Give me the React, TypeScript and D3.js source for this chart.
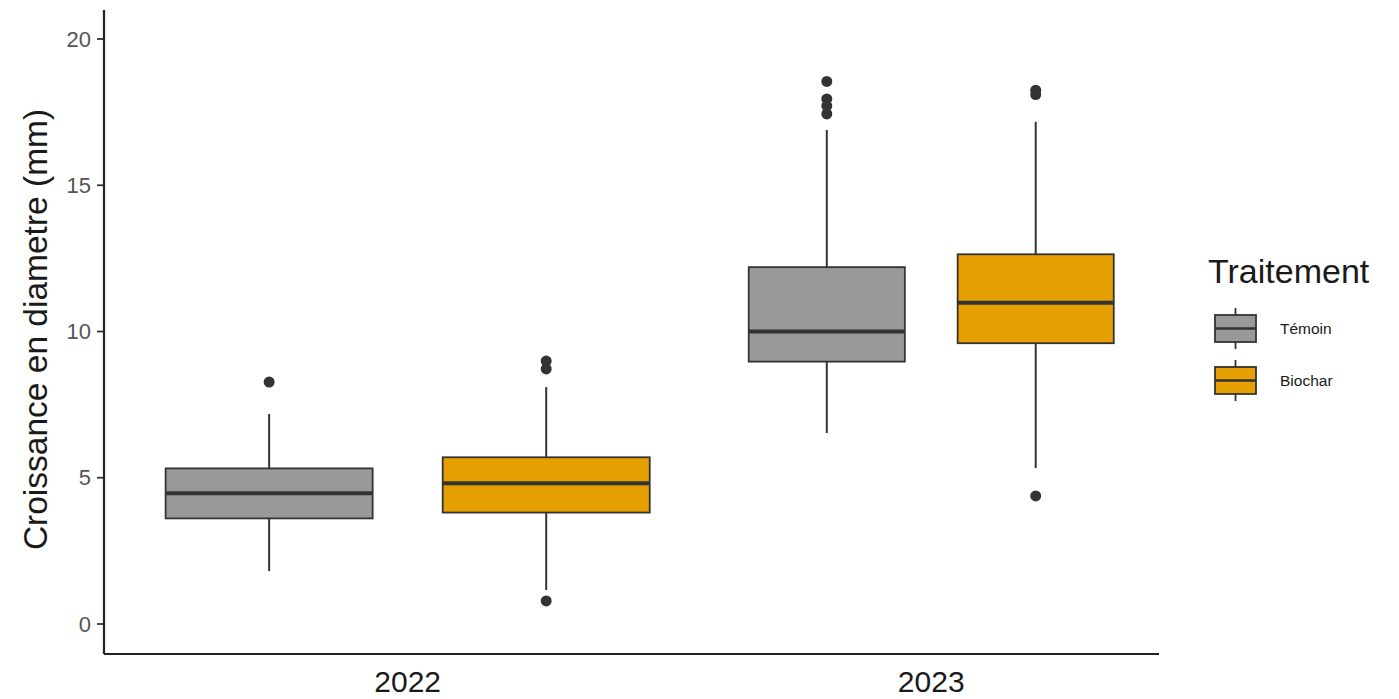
import React from "react";
import * as d3 from "d3";

// ---- data ----
const years = ["2022", "2023"];
const treatments = ["Témoin", "Biochar"];
const treatmentColors = ["#999999", "#E69F00"];
const yTicks = [0, 5, 10, 15, 20];

// five-number summaries per year
const temoinLow = [1.81, 6.53];
const temoinQ1 = [3.61, 8.97];
const temoinMed = [4.47, 10.0];
const temoinQ3 = [5.32, 12.2];
const temoinHigh = [7.18, 16.89];
const temoinOutliers = [[8.27], [18.55, 17.95, 17.71, 17.44]];

const biocharLow = [1.16, 5.33];
const biocharQ1 = [3.81, 9.6];
const biocharMed = [4.81, 10.98];
const biocharQ3 = [5.7, 12.64];
const biocharHigh = [8.1, 17.17];
const biocharOutliers = [[0.79, 8.99, 8.72], [4.38, 18.25, 18.1]];

// relative box widths (varwidth) per year
const yearWidthFactor = [1, 0.754];

const W = 1399;
const H = 699;
const left = 104;
const right = 1159;
const top = 10;
const bottom = 654;

export default function App() {
  const x = d3.scaleLinear().domain([0.42, 2.435]).range([left, right]);
  const y = d3.scaleLinear().domain([0, 20]).range([624, 39]);

  const series = [
    { low: temoinLow, q1: temoinQ1, med: temoinMed, q3: temoinQ3, high: temoinHigh, out: temoinOutliers },
    { low: biocharLow, q1: biocharQ1, med: biocharMed, q3: biocharQ3, high: biocharHigh, out: biocharOutliers },
  ];

  const stroke = "#333333";
  const font = "'Liberation Sans', Arial, sans-serif";

  const boxes: React.ReactNode[] = [];
  years.forEach((yr, yi) => {
    const s = yearWidthFactor[yi];
    const half = 0.1977 * s;
    const off = 0.2646 * s;
    series.forEach((ser, ti) => {
      const c = yi + 1 + (ti === 0 ? -off : off);
      const cx = x(c);
      const x0 = x(c - half);
      const x1 = x(c + half);
      boxes.push(
        <g key={`${yr}-${ti}`}>
          <line x1={cx} x2={cx} y1={y(ser.high[yi])} y2={y(ser.q3[yi])} stroke={stroke} strokeWidth={2} />
          <line x1={cx} x2={cx} y1={y(ser.q1[yi])} y2={y(ser.low[yi])} stroke={stroke} strokeWidth={2} />
          <rect
            x={x0}
            y={y(ser.q3[yi])}
            width={x1 - x0}
            height={y(ser.q1[yi]) - y(ser.q3[yi])}
            fill={treatmentColors[ti]}
            stroke={stroke}
            strokeWidth={1.8}
          />
          <line x1={x0} x2={x1} y1={y(ser.med[yi])} y2={y(ser.med[yi])} stroke={stroke} strokeWidth={4} />
          {ser.out[yi].map((v, k) => (
            <circle key={k} cx={cx} cy={y(v)} r={5.5} fill={stroke} />
          ))}
        </g>
      );
    });
  });

  const legendKeys = treatments.map((t, i) => {
    const ky = 315 + i * 52;
    return (
      <g key={t}>
        <line x1={1235.5} x2={1235.5} y1={ky - 7} y2={ky + 34} stroke={stroke} strokeWidth={1.8} />
        <rect x={1215} y={ky} width={41} height={27} fill={treatmentColors[i]} stroke={stroke} strokeWidth={1.8} />
        <line x1={1215} x2={1256} y1={ky + 13.5} y2={ky + 13.5} stroke={stroke} strokeWidth={2.5} />
        <text x={1280} y={ky + 14} dy="0.35em" fontSize={15.5} fill="#1a1a1a" fontFamily={font}>
          {t}
        </text>
      </g>
    );
  });

  return (
    <svg width={W} height={H} style={{ position: "absolute", left: 0, top: 0, background: "#fff" }}>
      {/* y ticks */}
      {yTicks.map((t) => (
        <g key={t}>
          <line x1={left - 7} x2={left} y1={y(t)} y2={y(t)} stroke={stroke} strokeWidth={1.8} />
          <text x={left - 13} y={y(t)} dy="0.35em" textAnchor="end" fontSize={22} fill="#555555" fontFamily={font}>
            {t}
          </text>
        </g>
      ))}
      {boxes}
      {/* axes */}
      <line x1={left} x2={left} y1={top} y2={bottom} stroke="#222" strokeWidth={2.2} />
      <line x1={left} x2={right} y1={bottom} y2={bottom} stroke="#222" strokeWidth={2.2} />
      {years.map((yr, i) => (
        <text key={yr} x={x(i + 1)} y={692} textAnchor="middle" fontSize={30} fill="#1a1a1a" fontFamily={font}>
          {yr}
        </text>
      ))}
      <text
        transform={`translate(47, ${y(10) - 2}) rotate(-90)`}
        textAnchor="middle"
        fontSize={33.5}
        fill="#1a1a1a"
        fontFamily={font}
      >
        Croissance en diametre (mm)
      </text>
      <text x={1208} y={283} fontSize={34} fill="#1a1a1a" fontFamily={font}>
        Traitement
      </text>
      {legendKeys}
    </svg>
  );
}
